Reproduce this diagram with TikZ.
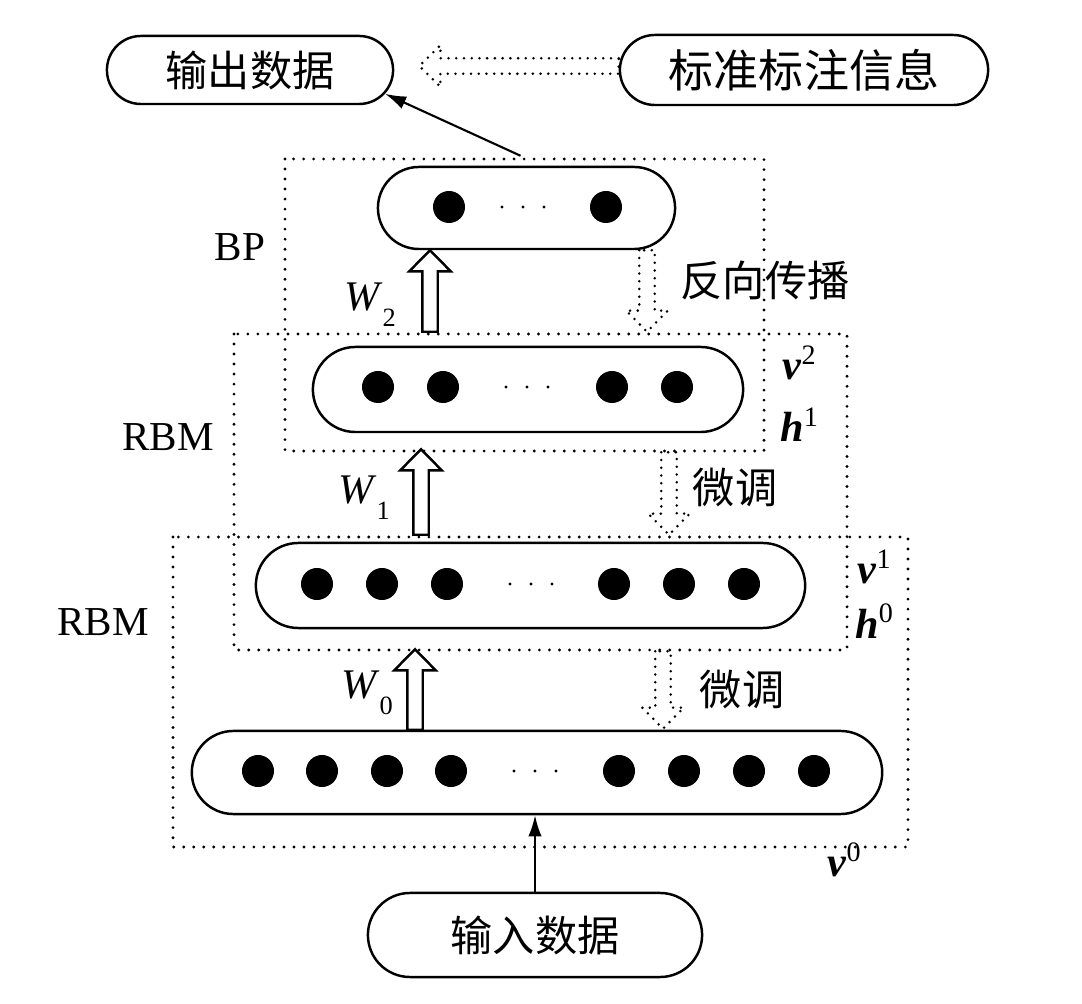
\documentclass[tikz,border=0pt]{standalone}
\usepackage{fontspec}
\setmainfont{Liberation Serif}
\newfontfamily\cjk{Noto Sans CJK SC}
\usetikzlibrary{shapes.misc,arrows.meta,calc}

\tikzset{
  layer/.style={draw,rounded rectangle,line width=0.7pt,inner sep=0pt},
  dotbox/.style={line width=0.9pt,dash pattern=on 0pt off 2.85pt,line cap=round},
  hollow/.style={draw,fill=white,line width=0.7pt,line join=miter},
  dothollow/.style={line width=0.8pt,dash pattern=on 0pt off 2.2pt,line cap=round},
  arrow/.style={-{Latex[length=6pt,width=3.8pt]},line width=0.6pt},
  lbl/.style={font=\fontsize{11.7}{14}\selectfont},
  var/.style={font=\fontsize{12}{14}\selectfont},
  cjklbl/.style={font=\cjk\fontsize{12}{14}\selectfont},
}

% fat arrow from #2 to #3
\newcommand{\fatarrow}[3][]{%
  \draw[#1] let \p1=(#2), \p2=(#3), \n1={veclen(\x2-\x1,\y2-\y1)},
    \n2={atan2(\y2-\y1,\x2-\x1)} in
    [shift={(\p1)},rotate=\n2] (0pt,-2.2pt) -- ({\n1*1pt-6pt},-2.2pt)
    -- ({\n1*1pt-6pt},-5.9pt) -- ({\n1*1pt},0pt) -- ({\n1*1pt-6pt},5.9pt)
    -- ({\n1*1pt-6pt},2.2pt) -- (0pt,2.2pt) -- cycle;}

\begin{document}
\begin{tikzpicture}[x=0.01cm,y=-0.01cm]
\useasboundingbox (0,0) rectangle (1082,1004);

% dotted groups
\draw[dotbox] (285,159) rectangle (764,451);
\draw[dotbox] (234,334) rectangle (847,650);
\draw[dotbox] (173,537) rectangle (908,847);

% top boxes
\node[layer,cjklbl,minimum width=2.86cm,minimum height=0.68cm] (out) at (250,70) {输出数据};
\node[layer,cjklbl,font=\cjk\fontsize{12.8}{14}\selectfont,minimum width=3.68cm,minimum height=0.70cm] (std) at (804,70) {标准标注信息};

% layers
\node[layer,minimum width=2.97cm,minimum height=0.82cm] (T) at (526.5,208) {};
\node[layer,minimum width=4.30cm,minimum height=0.85cm] (L2) at (528,389.5) {};
\node[layer,minimum width=5.49cm,minimum height=0.85cm] (L1) at (530.5,585.5) {};
\node[layer,minimum width=6.90cm,minimum height=0.83cm] (L0) at (537,772.5) {};
\node[layer,cjklbl,minimum width=3.34cm,minimum height=0.84cm] (in) at (535,935) {输入数据};

% units
\foreach \x in {449,606} \fill (\x,207) circle (0.16cm);
\foreach \x in {378,443,612,677} \fill (\x,387) circle (0.16cm);
\foreach \x in {317,382,447,614,679,744} \fill (\x,584) circle (0.16cm);
\foreach \x in {258,322,387,451,619,684,749,814} \fill (\x,771) circle (0.16cm);
\foreach \x/\y in {523/207,527/387,531/584,535/771}
  \foreach \d in {-21,0,21} \fill (\x+\d,\y) circle (0.45pt);

% arrows
\draw[arrow] ($(T.north)+(-6,-10)$) -- (out.-10);
\draw[arrow] (in.north) -- (in.north |- L0.south);
\fatarrow[dothollow]{$(std.west)+(0,-4)$}{$(out.east)+(25,-4)$}

\fatarrow[hollow]{$(L2.north)+(-98,-14)$}{$(T.south)+(-96.5,0)$}
\fatarrow[hollow]{$(L1.north)+(-109.5,-7)$}{$(L2.south)+(-107,16)$}
\fatarrow[hollow]{$(L0.north)+(-122,0)$}{$(L1.south)+(-115.5,20)$}

\fatarrow[dothollow]{$(T.south)+(120.5,0)$}{$(L2.north)+(119,-14)$}
\fatarrow[dothollow]{$(L2.south)+(141,19)$}{$(L1.north)+(138.5,-7)$}
\fatarrow[dothollow]{$(L1.south)+(132.5,22)$}{$(L0.north)+(126,-1)$}

% labels
\node[lbl] (bp) at (240,247) {BP};
\node[lbl] (rbm2) at (168,437) {RBM};
\node[lbl] (rbm1) at (103,622) {RBM};

\node[var] (w2) at (370,305) {\textit{W}\raisebox{-4.5pt}{\fontsize{7.5}{8}\selectfont 2}};
\node[var] (w1) at (364,498) {\textit{W}\raisebox{-4.5pt}{\fontsize{7.5}{8}\selectfont 1}};
\node[var] (w0) at (367,693) {\textit{W}\raisebox{-4.5pt}{\fontsize{7.5}{8}\selectfont 0}};

\node[cjklbl] (bpt) at (765,280) {反向传播};
\node[cjklbl] (ft2) at (735,488) {微调};
\node[cjklbl] (ft1) at (742,690) {微调};

\node[var] (v2) at (800,363) {\textbf{\textit{v}}\textsuperscript{2}};
\node[var] (h1) at (800,425) {\textbf{\textit{h}}\textsuperscript{1}};
\node[var] (v1) at (875,567) {\textbf{\textit{v}}\textsuperscript{1}};
\node[var] (h0) at (875,621) {\textbf{\textit{h}}\textsuperscript{0}};
\node[var] (v0) at (845,860) {\textbf{\textit{v}}\textsuperscript{0}};

\end{tikzpicture}
\end{document}
